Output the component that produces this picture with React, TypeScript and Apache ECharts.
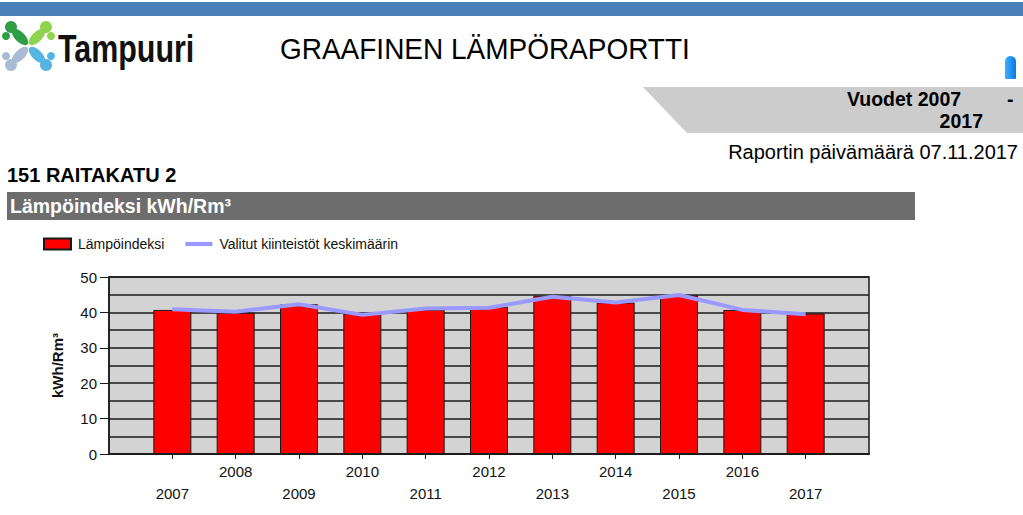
import React, { useEffect, useRef } from "react";
import * as echarts from "echarts";

const years = ["2007", "2008", "2009", "2010", "2011", "2012", "2013", "2014", "2015", "2016", "2017"];
const heatIndex = [40.7, 39.9, 42.3, 39.7, 40.8, 41.6, 44.7, 42.8, 44.8, 40.7, 39.7];
const averageIndex = [40.9, 40.2, 42.3, 39.3, 41.1, 41.3, 44.4, 42.8, 44.9, 40.7, 39.5];
const yTicks = { min: 0, max: 50, interval: 10 };
const seriesNames = ["Lämpöindeksi", "Valitut kiinteistöt keskimäärin"];

const FONT = "'Liberation Sans', Arial, Helvetica, sans-serif";

export default function App() {
  const ref = useRef<HTMLDivElement>(null);

  useEffect(() => {
    if (!ref.current) return;
    const chart = echarts.init(ref.current, undefined, { renderer: "svg" });

    // pad with an empty slot on each side (axis spans 2006..2018)
    const cats = [String(Number(years[0]) - 1), ...years, String(Number(years[years.length - 1]) + 1)];
    const barData = [null, ...heatIndex, null];
    const lineData = [null, ...averageIndex, null];
    const last = cats.length - 1;

    const leaf = (cx: number, cy: number, rot: number, color: string) => ({
      type: "ellipse",
      x: cx,
      y: cy,
      rotation: rot,
      shape: { cx: 0, cy: 0, rx: 10.5, ry: 5 },
      style: { fill: color },
    });
    const dot = (cx: number, cy: number, r: number, color: string) => ({
      type: "circle",
      shape: { cx, cy, r },
      style: { fill: color },
    });

    const q = Math.PI / 4;
    const cTL = "#2f9e44";
    const cTR = "#8fd44f";
    const cBL = "#a8bcd4";
    const cBR = "#55b4e2";

    chart.setOption({
      animation: false,
      backgroundColor: "#ffffff",
      textStyle: { fontFamily: FONT },
      grid: {
        left: 109,
        right: 1023 - 869,
        top: 277,
        bottom: 515 - 454,
        show: true,
        backgroundColor: "#d3d3d3",
        borderColor: "#1a1a1a",
        borderWidth: 1.5,
      },
      legend: {
        left: 43,
        top: 237,
        padding: 0,
        itemWidth: 27,
        itemHeight: 11,
        itemGap: 21,
        textStyle: { fontSize: 14, color: "#111", fontFamily: FONT, padding: [0, 0, 0, 2] },
        data: [
          { name: seriesNames[0], icon: "rect" },
          { name: seriesNames[1], icon: "path://M0,0h26v4h-26z" },
        ],
      },
      xAxis: [
        {
          type: "category",
          data: cats,
          boundaryGap: false,
          axisLine: { show: true, lineStyle: { color: "#1a1a1a", width: 1.5 } },
          axisTick: {
            show: true,
            length: 5,
            interval: (i: number) => i > 0 && i < last,
            lineStyle: { color: "#1a1a1a" },
          },
          axisLabel: {
            interval: (i: number) => i > 0 && i < last && i % 2 === 0,
            margin: 10,
            fontSize: 15,
            color: "#111",
            fontFamily: FONT,
          },
          splitLine: { show: false },
        },
        {
          type: "category",
          data: cats,
          boundaryGap: false,
          position: "bottom",
          offset: 0,
          axisLine: { show: false },
          axisTick: { show: false },
          axisLabel: {
            interval: (i: number) => i > 0 && i < last && i % 2 === 1,
            margin: 32,
            fontSize: 15,
            color: "#111",
            fontFamily: FONT,
          },
          splitLine: { show: false },
        },
      ],
      yAxis: {
        type: "value",
        min: yTicks.min,
        max: yTicks.max,
        interval: yTicks.interval,
        name: "kWh/Rm³",
        nameLocation: "middle",
        nameGap: 44,
        nameTextStyle: { fontSize: 15, fontWeight: "bold", color: "#111", fontFamily: FONT },
        axisLine: { show: true, lineStyle: { color: "#1a1a1a", width: 1.5 } },
        axisTick: { show: true, length: 9, lineStyle: { color: "#1a1a1a" } },
        axisLabel: { fontSize: 15, color: "#111", margin: 12, fontFamily: FONT },
        splitLine: { show: true, lineStyle: { color: "#1a1a1a", width: 1.5 } },
        minorTick: { show: false, splitNumber: 2 },
        minorSplitLine: { show: true, lineStyle: { color: "#1a1a1a", width: 1.5 } },
      },
      series: [
        {
          name: seriesNames[0],
          type: "bar",
          xAxisIndex: 0,
          data: barData,
          barWidth: 38,
          itemStyle: { color: "#ff0000", borderColor: "#1a1a1a", borderWidth: 1 },
          z: 2,
        },
        {
          name: seriesNames[1],
          type: "line",
          xAxisIndex: 0,
          data: lineData,
          symbol: "none",
          lineStyle: { color: "#9999ff", width: 4 },
          itemStyle: { color: "#9999ff" },
          z: 3,
        },
      ],
      graphic: [
        // top blue band
        { type: "rect", shape: { x: 0, y: 2, width: 1023, height: 14 }, style: { fill: "#4a80b8" } },
        // logo icon
        dot(11, 27, 6, cTL),
        dot(6, 36, 4, cTL),
        leaf(20, 37, -q, cTL),
        dot(46, 27, 6, cTR),
        dot(51, 36, 4, cTR),
        leaf(37, 37, q, cTR),
        dot(11, 65, 6, cBL),
        dot(6, 56, 4, cBL),
        leaf(20, 55, q, cBL),
        dot(46, 65, 6, cBR),
        dot(51, 56, 4, cBR),
        leaf(37, 55, -q, cBR),
        {
          type: "text",
          x: 58,
          y: 49,
          scaleX: 0.8,
          style: {
            text: "Tampuuri",
            font: "bold 38px 'Liberation Sans Narrow', 'Arial Narrow', 'Liberation Sans', sans-serif",
            fill: "#111",
            verticalAlign: "middle",
          },
        },
        {
          type: "text",
          x: 280,
          y: 49,
          scaleX: 0.965,
          style: {
            text: "GRAAFINEN LÄMPÖRAPORTTI",
            font: `29px ${FONT}`,
            fill: "#000",
            verticalAlign: "middle",
          },
        },
        // right blue fragment
        {
          type: "rect",
          shape: { x: 1005, y: 56, width: 11, height: 23, r: [6, 6, 1, 1] },
          style: {
            fill: new echarts.graphic.LinearGradient(0, 0, 1, 0, [
              { offset: 0, color: "#3fb0ff" },
              { offset: 1, color: "#0a78e8" },
            ]),
          },
        },
        // grey slanted banner
        {
          type: "polygon",
          shape: { points: [[643, 87], [1023, 87], [1023, 133], [687, 133]] },
          style: { fill: "#cccccc" },
        },
        {
          type: "text",
          x: 847,
          y: 99,
          style: { text: "Vuodet 2007", font: `bold 19.5px ${FONT}`, fill: "#000", verticalAlign: "middle" },
        },
        {
          type: "text",
          x: 1007,
          y: 99,
          style: { text: "-", font: `bold 19.5px ${FONT}`, fill: "#000", verticalAlign: "middle" },
        },
        {
          type: "text",
          x: 983,
          y: 121,
          style: { text: "2017", font: `bold 19.5px ${FONT}`, fill: "#000", align: "right", verticalAlign: "middle" },
        },
        {
          type: "text",
          x: 1018,
          y: 152,
          style: {
            text: "Raportin päivämäärä 07.11.2017",
            font: `20px ${FONT}`,
            fill: "#000",
            align: "right",
            verticalAlign: "middle",
          },
        },
        {
          type: "text",
          x: 7,
          y: 175,
          style: { text: "151 RAITAKATU 2", font: `bold 20px ${FONT}`, fill: "#000", verticalAlign: "middle" },
        },
        { type: "rect", shape: { x: 7, y: 192, width: 908, height: 28 }, style: { fill: "#6d6d6d" } },
        {
          type: "text",
          x: 10,
          y: 206,
          style: { text: "Lämpöindeksi kWh/Rm³", font: `bold 19.5px ${FONT}`, fill: "#ffffff", verticalAlign: "middle" },
        },
      ],
    });

    return () => chart.dispose();
  }, []);

  return (
    <div
      ref={ref}
      style={{ position: "absolute", left: 0, top: 0, width: 1023, height: 515, background: "#fff" }}
    />
  );
}
